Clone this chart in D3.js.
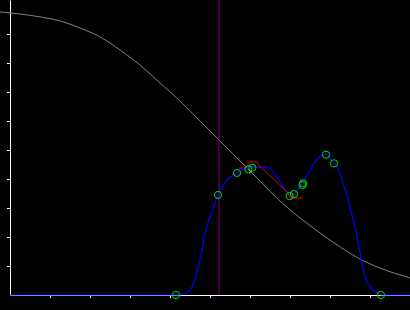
<!DOCTYPE html>
<html>
<head>
<meta charset="utf-8">
<script src="https://cdn.jsdelivr.net/npm/d3@7"></script>
<style>
  body { margin: 0; background: #000; }
</style>
</head>
<body>
<div class="chart"></div>
<script>
// axis ticks
var xTicks = [1, 2, 3, 4, 5, 6, 7, 8, 9];
var yTicks = [1, 2, 3, 4, 5, 6, 7, 8, 9];

// grey falling curve
var greyX = [-0.25, 0.25, 0.75, 1.25, 1.75, 2.25, 2.75, 3.25, 3.75, 4.25, 4.75, 5.25, 5.75, 6.25, 6.75, 7.25, 7.75, 8.25, 8.75, 9.25, 9.75, 10];
var greyY = [9.76, 9.69, 9.59, 9.45, 9.21, 8.90, 8.45, 7.93, 7.31, 6.69, 6.0, 5.31, 4.62, 3.93, 3.24, 2.66, 2.14, 1.66, 1.24, 0.93, 0.69, 0.59];

// blue curve
var blueX = [0, 4.15, 4.325, 4.5, 4.625, 4.7, 4.8, 4.875, 5.0, 5.125, 5.2, 5.425, 5.675, 5.825, 5.975, 6.075, 6.25, 6.425, 6.55, 6.675, 6.825, 6.95, 7.0, 7.125, 7.3, 7.5, 7.7, 7.9, 8.1, 8.25, 8.325, 8.425, 8.5, 8.625, 8.75, 8.875, 9.0, 9.175, 9.3, 10];
var blueY = [0, 0, 0.03, 0.17, 0.52, 0.97, 1.55, 2.14, 2.69, 3.17, 3.45, 3.97, 4.21, 4.34, 4.38, 4.41, 4.41, 4.41, 4.28, 4.07, 3.72, 3.52, 3.41, 3.52, 3.86, 4.31, 4.72, 4.86, 4.55, 4.21, 3.86, 3.45, 3.03, 2.34, 1.45, 0.62, 0.28, 0.07, 0, 0];

// green markers
var dotX = [4.15, 5.2, 5.675, 5.96, 6.06, 6.99, 7.1, 7.31, 7.33, 7.9, 8.1, 9.275];
var dotY = [0, 3.45, 4.21, 4.33, 4.39, 3.41, 3.48, 3.79, 3.85, 4.84, 4.54, 0];

// red line
var redX = [5.725, 5.85, 5.95, 5.95, 6.175, 6.225, 6.425, 6.75, 6.95, 7.0, 7.325];
var redY = [4.38, 4.38, 4.45, 4.59, 4.59, 4.45, 4.21, 3.79, 3.52, 3.34, 3.34];

// vertical marker
var markX = 5.225;

var width = 410, height = 310;

var svg = d3.select(".chart")
  .append("svg")
    .attr("width", width)
    .attr("height", height)
    .style("background", "#000");

var x = d3.scaleLinear().domain([0, 10]).range([10, 410]);
var y = d3.scaleLinear().domain([0, 295 / 29]).range([295, 0]);

function pts(xs, ys) { return xs.map(function(d, i) { return [d, ys[i]]; }); }

// axes
var xAxis = svg.append("g")
  .attr("transform", "translate(0,295)")
  .call(d3.axisBottom(x).tickValues(xTicks).tickSize(3).tickSizeOuter(0).tickFormat(""));
var yAxis = svg.append("g")
  .attr("transform", "translate(10,0)")
  .call(d3.axisLeft(y).tickValues(yTicks).tickSize(3).tickSizeOuter(0).tickFormat(""));
svg.selectAll(".domain, .tick line").attr("stroke", "#fff").attr("stroke-width", 1);

var line = d3.line()
  .x(function(d) { return x(d[0]); })
  .y(function(d) { return y(d[1]); });

// grey curve
svg.append("path")
  .datum(pts(greyX, greyY))
  .attr("fill", "none")
  .attr("stroke", "#808080")
  .attr("stroke-width", 1)
  .attr("d", line.curve(d3.curveMonotoneX));

// purple vertical
svg.append("line")
  .attr("x1", x(markX)).attr("x2", x(markX))
  .attr("y1", y(0)).attr("y2", 0)
  .attr("stroke", "#800080")
  .attr("stroke-width", 1);

// blue curve
svg.append("path")
  .datum(pts(blueX, blueY))
  .attr("fill", "none")
  .attr("stroke", "#0000ff")
  .attr("stroke-width", 1.2)
  .attr("d", line.curve(d3.curveMonotoneX));

// red line
svg.append("path")
  .datum(pts(redX, redY))
  .attr("fill", "none")
  .attr("stroke", "#e00000")
  .attr("stroke-width", 1)
  .attr("d", line.curve(d3.curveLinear));

// markers
svg.selectAll("circle.dot")
  .data(pts(dotX, dotY))
  .enter()
  .append("circle")
    .attr("class", "dot")
    .attr("cx", function(d) { return x(d[0]); })
    .attr("cy", function(d) { return y(d[1]); })
    .attr("r", 3.6)
    .attr("fill", "none")
    .attr("stroke", "#00e000")
    .attr("stroke-width", 1);
</script>
</body>
</html>
